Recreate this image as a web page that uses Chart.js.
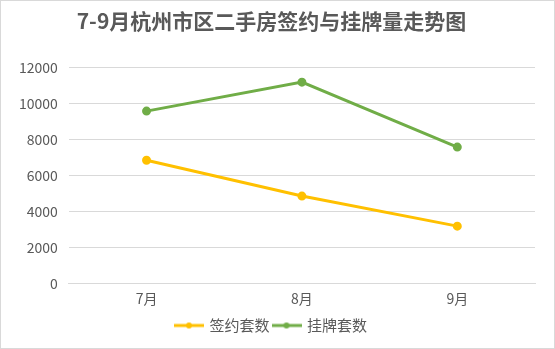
<!DOCTYPE html>
<html>
<head>
<meta charset="utf-8">
<script src="https://cdn.jsdelivr.net/npm/chart.js@4/dist/chart.umd.min.js"></script>
<style>
  html, body { margin: 0; padding: 0; background: #fff; }
  #wrap { width: 555px; height: 349px; }
</style>
</head>
<body>
<div id="wrap"><canvas id="chart" width="555" height="349"></canvas></div>
<script>
var months = ["7月", "8月", "9月"];
var signed = [6830, 4840, 3170];
var listed = [9560, 11170, 7560];
var yTicks = [0, 2000, 4000, 6000, 8000, 10000, 12000];

var FONT = "'Noto Sans CJK SC', 'Noto Sans', sans-serif";
var TEXT = "#595959";

/* small line+dot marker for the legend */
function legendMarker(color) {
    var c = document.createElement("canvas");
    c.width = 30; c.height = 10;
    var g = c.getContext("2d");
    g.strokeStyle = color;
    g.lineWidth = 3;
    g.beginPath(); g.moveTo(0, 5); g.lineTo(30, 5); g.stroke();
    g.fillStyle = color;
    g.beginPath(); g.arc(15, 5, 3, 0, Math.PI * 2); g.fill();
    return c;
}

var frame = {
    id: "frame",
    beforeDraw: function(chart) {
        var ctx = chart.ctx;
        ctx.save();
        ctx.fillStyle = "#fff";
        ctx.fillRect(0, 0, chart.width, chart.height);
        ctx.strokeStyle = "#d9d9d9";
        ctx.lineWidth = 1;
        ctx.strokeRect(0.5, 0.5, chart.width - 1, chart.height - 1);
        ctx.restore();
    }
};

var ctx = document.getElementById("chart").getContext("2d");
new Chart(ctx, {
    type: "line",
    data: {
        labels: months,
        datasets: [
            {
                label: "签约套数",
                data: signed,
                borderColor: "#ffc000",
                backgroundColor: "#ffc000",
                borderWidth: 3,
                pointRadius: 3,
                pointHoverRadius: 3,
                tension: 0
            },
            {
                label: "挂牌套数",
                data: listed,
                borderColor: "#70ad47",
                backgroundColor: "#70ad47",
                borderWidth: 3,
                pointRadius: 3,
                pointHoverRadius: 3,
                tension: 0
            }
        ]
    },
    options: {
        responsive: false,
        animation: false,
        layout: { padding: { left: 8, right: 20, top: 0, bottom: 6 } },
        plugins: {
            title: {
                display: true,
                text: "7-9月杭州市区二手房签约与挂牌量走势图",
                color: TEXT,
                font: { family: FONT, size: 21, weight: "bold" },
                padding: { top: 8, bottom: 34 }
            },
            legend: {
                position: "bottom",
                labels: {
                    color: TEXT,
                    font: { family: FONT, size: 15 },
                    usePointStyle: true,
                    pointStyleWidth: 26,
                    boxWidth: 30,
                    padding: 4,
                    generateLabels: function(chart) {
                        return chart.data.datasets.map(function(ds, i) {
                            return {
                                text: ds.label,
                                fontColor: TEXT,
                                pointStyle: legendMarker(ds.borderColor),
                                datasetIndex: i,
                                lineWidth: 0,
                                strokeStyle: "transparent",
                                fillStyle: "transparent"
                            };
                        });
                    }
                }
            },
            tooltip: { enabled: false }
        },
        scales: {
            x: {
                offset: true,
                grid: { display: false, drawTicks: false },
                border: { color: "#d9d9d9" },
                ticks: { color: TEXT, font: { family: FONT, size: 14 }, padding: 7 }
            },
            y: {
                min: 0,
                max: 12000,
                afterBuildTicks: function(axis) {
                    axis.ticks = yTicks.map(function(v) { return { value: v }; });
                },
                grid: { color: "#d9d9d9", drawTicks: false },
                border: { display: false },
                ticks: {
                    color: TEXT,
                    font: { family: FONT, size: 14 },
                    padding: 11,
                    callback: function(v) { return String(v); }
                }
            }
        }
    },
    plugins: [frame]
});
</script>
</body>
</html>
